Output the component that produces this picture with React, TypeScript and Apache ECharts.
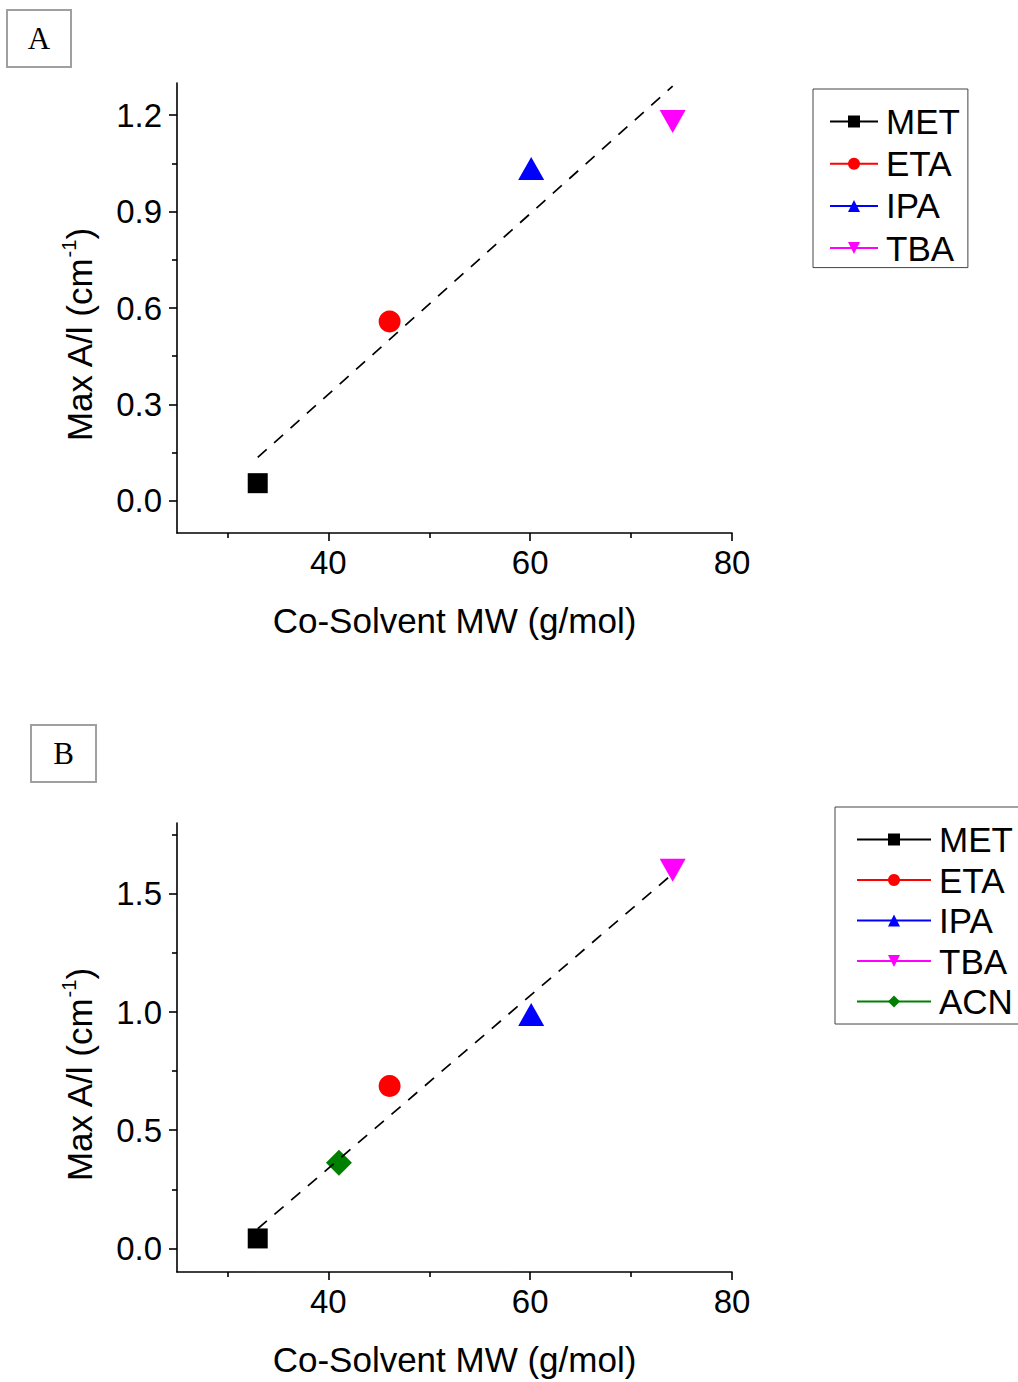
import React, { useEffect, useRef } from 'react';
import * as echarts from 'echarts';

// ---- Data ----
const solventsA = ['MET', 'ETA', 'IPA', 'TBA'];
const mwA = [33, 46.07, 60.1, 74.12];
const maxAlA = [0.055, 0.558, 1.034, 1.18];
const fitMwA = [33, 74.12];
const fitValA = [0.135, 1.29];

const solventsB = ['MET', 'ETA', 'IPA', 'TBA', 'ACN'];
const mwB = [33, 46.07, 60.1, 74.12, 41.05];
const maxAlB = [0.042, 0.687, 0.99, 1.6, 0.362];
const fitMwB = [33, 74.12];
const fitValB = [0.083, 1.585];

const xMajorTicks = [40, 60, 80];
const xMinorTicks = [30, 50, 70];
const yMajorTicksA = [0, 0.3, 0.6, 0.9, 1.2];
const yMinorTicksA = [0.15, 0.45, 0.75, 1.05];
const yMajorTicksB = [0, 0.5, 1.0, 1.5];
const yMinorTicksB = [0.25, 0.75, 1.25, 1.75];

const xRange = [25, 80];
const yRangeA = [-0.1, 1.3];
const yRangeB = [-0.1, 1.8];

// ---- Styles ----
const FONT = "'Liberation Sans', Arial, sans-serif";
const SERIF = "'Liberation Serif', 'Times New Roman', serif";
const markerStyle: Record<string, { color: string; symbol: string; size: number | number[]; rotate: number }> = {
  MET: { color: '#000000', symbol: 'rect', size: 20, rotate: 0 },
  ETA: { color: '#ff0000', symbol: 'circle', size: 22, rotate: 0 },
  IPA: { color: '#0000ff', symbol: 'triangle', size: [26, 23], rotate: 0 },
  TBA: { color: '#ff00ff', symbol: 'triangle', size: [26, 23], rotate: 180 },
  ACN: { color: '#008000', symbol: 'diamond', size: [26, 26], rotate: 0 },
};

const AXIS_W = 1.6;
const TICK_FONT = 33;

function xAxes(gridIndex: number) {
  const common = {
    type: 'value',
    gridIndex,
    position: 'bottom',
    min: xRange[0],
    max: xRange[1],
    splitLine: { show: false },
  };
  return [
    {
      ...common,
      axisLine: { show: true, onZero: false, lineStyle: { color: '#000', width: AXIS_W } },
      axisTick: { show: true, inside: false, length: 8, customValues: xMajorTicks, lineStyle: { color: '#000', width: AXIS_W } },
      axisLabel: { show: true, customValues: xMajorTicks, margin: 13, fontSize: TICK_FONT, color: '#000', fontFamily: FONT },
      name: 'Co-Solvent MW (g/mol)',
      nameLocation: 'middle',
      nameGap: 70,
      nameTextStyle: { fontSize: 35, fontFamily: FONT, color: '#000', lineHeight: 35 },
    },
    {
      ...common,
      axisLine: { show: false, onZero: false },
      axisTick: { show: true, inside: false, length: 5, customValues: xMinorTicks, lineStyle: { color: '#000', width: AXIS_W } },
      axisLabel: { show: false },
    },
  ];
}

function yAxes(gridIndex: number, range: number[], major: number[], minor: number[]) {
  const common = {
    type: 'value',
    gridIndex,
    position: 'left',
    offset: 0,
    min: range[0],
    max: range[1],
    splitLine: { show: false },
  };
  return [
    {
      ...common,
      axisLine: { show: true, onZero: false, lineStyle: { color: '#000', width: AXIS_W } },
      axisTick: { show: true, inside: false, length: 8, customValues: major, lineStyle: { color: '#000', width: AXIS_W } },
      axisLabel: {
        show: true,
        customValues: major,
        margin: 15,
        fontSize: TICK_FONT,
        color: '#000',
        fontFamily: FONT,
        formatter: (v: number) => v.toFixed(1),
      },
    },
    {
      ...common,
      axisLine: { show: false, onZero: false },
      axisTick: { show: true, inside: false, length: 5, customValues: minor, lineStyle: { color: '#000', width: AXIS_W } },
      axisLabel: { show: false },
    },
  ];
}

function pointSeries(names: string[], mw: number[], vals: number[], axisIndex: number) {
  return names.map((name, i) => {
    const s = markerStyle[name];
    return {
      type: 'line',
      name,
      xAxisIndex: axisIndex,
      yAxisIndex: axisIndex,
      data: [[mw[i], vals[i]]],
      symbol: s.symbol,
      symbolSize: s.size,
      symbolRotate: s.rotate,
      showSymbol: true,
      itemStyle: { color: s.color },
      lineStyle: { color: s.color, width: 1 },
      z: 3,
      silent: true,
    };
  });
}

function fitSeries(name: string, xs: number[], ys: number[], axisIndex: number) {
  return {
    type: 'line',
    name,
    xAxisIndex: axisIndex,
    yAxisIndex: axisIndex,
    data: xs.map((x, i) => [x, ys[i]]),
    symbol: 'none',
    lineStyle: { color: '#000', width: 1.7, type: [12, 10] },
    z: 5,
    silent: true,
  };
}

function legend(names: string[], left: number, top: number, padding: number[], itemWidth: number, itemGap: number) {
  return {
    orient: 'vertical',
    left,
    top,
    data: names,
    padding,
    itemWidth,
    itemHeight: 15,
    itemGap,
    borderColor: '#444',
    borderWidth: 1,
    selectedMode: false,
    textStyle: { fontSize: 35, fontFamily: FONT, color: '#000', padding: [0, 0, 0, 3] },
  };
}

function yTitle(x: number, y: number) {
  return {
    type: 'text',
    x,
    y,
    rotation: Math.PI / 2,
    style: {
      text: '{a|Max A/l (cm}{s|-1}{a|)}',
      align: 'center',
      verticalAlign: 'middle',
      rich: {
        a: { fontSize: 35, fontFamily: FONT, fill: '#000', lineHeight: 40 },
        s: { fontSize: 20, fontFamily: FONT, fill: '#000', lineHeight: 22, verticalAlign: 'top' },
      },
    },
  };
}

function panelLabel(label: string, x: number, y: number, w: number, h: number) {
  return [
    { type: 'rect', shape: { x, y, width: w, height: h }, style: { fill: '#fff', stroke: '#a0a0a0', lineWidth: 2 } },
    {
      type: 'text',
      x: x + w / 2,
      y: y + h / 2,
      style: { text: label, fontSize: 31, fontFamily: SERIF, fill: '#000', align: 'center', verticalAlign: 'middle' },
    },
  ];
}

export default function App() {
  const ref = useRef<HTMLDivElement>(null);
  useEffect(() => {
    if (!ref.current) return;
    const chart = echarts.init(ref.current, null, { renderer: 'svg' });
    const option: any = {
      animation: false,
      backgroundColor: '#ffffff',
      grid: [
        { left: 177, top: 83, width: 555, height: 450, containLabel: false },
        { left: 177, top: 823, width: 555, height: 449, containLabel: false },
      ],
      xAxis: [...xAxes(0), ...xAxes(1)],
      yAxis: [
        ...yAxes(0, yRangeA, yMajorTicksA, yMinorTicksA),
        ...yAxes(1, yRangeB, yMajorTicksB, yMinorTicksB),
      ],
      legend: [
        legend(solventsA, 813, 89, [15, 8, 2, 16], 48, 7.2),
        legend(solventsB, 835, 807, [15, 6, 5, 21], 74, 5.5),
      ],
      series: [
        ...pointSeries(solventsA, mwA, maxAlA, 0),
        fitSeries('Linear Fit A', fitMwA, fitValA, 0),
        ...pointSeries(solventsB, mwB, maxAlB, 2),
        fitSeries('Linear Fit B', fitMwB, fitValB, 2),
      ],
      graphic: [
        ...panelLabel('A', 7, 10, 64, 57),
        ...panelLabel('B', 31, 725, 65, 57),
        yTitle(79, 335),
        yTitle(79, 1075),
      ],
    };
    chart.setOption(option);
    return () => chart.dispose();
  }, []);
  return (
    <div
      ref={ref}
      style={{ position: 'absolute', left: 0, top: 0, width: 1018, height: 1382, background: '#fff' }}
    />
  );
}
